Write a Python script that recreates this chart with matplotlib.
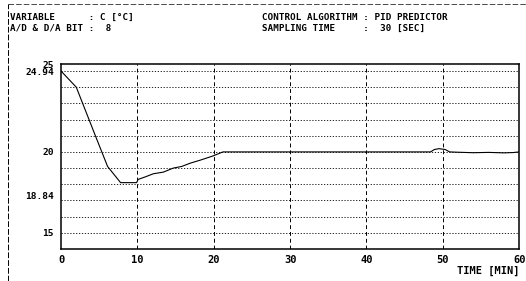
import matplotlib
matplotlib.use("Agg")
from matplotlib import pyplot as plt

time_min = [0, 2.0, 4.5, 6.1, 7.8, 9.9, 10.1, 11.0, 12.1, 13.4, 14.7, 15.8, 16.9, 18.3, 19.9,
            21.2, 30, 40, 48.4, 48.9, 49.5, 50.3, 50.9, 52.0, 54.0, 56.0, 58.0, 59.2, 60]
temp_c = [25.0, 24.0, 21.0, 19.1, 18.1, 18.1, 18.3, 18.45, 18.65, 18.75, 19.0, 19.1, 19.3, 19.5, 19.75,
          20.0, 20.0, 20.0, 20.0, 20.15, 20.2, 20.15, 20.0, 19.98, 19.95, 19.97, 19.94, 19.96, 20.0]

ytick_pos = [25.42, 24.94, 20, 17.28, 15]
ytick_lab = ["25", "24.94", "20", "18.84", "15"]
xticks = [0, 10, 20, 30, 40, 50, 60]

mono = "DejaVu Sans Mono"

fig = plt.figure(figsize=(5.26, 2.81), dpi=100)
ax = fig.add_axes([0.116, 0.114, 0.871, 0.658])

ax.plot(time_min, temp_c, color="black", lw=0.8)

for y in range(15, 26):
    ax.axhline(y, color="black", lw=0.6, ls=(0, (1.5, 2)))
for x in xticks[1:-1]:
    ax.axvline(x, color="black", lw=0.7, ls=(0, (4, 3)))

ax.set_xlim(0, 60)
ax.set_ylim(14.0, 25.43)
ax.set_xticks(xticks)
ax.set_xticklabels([str(v) for v in xticks], family=mono, fontweight="bold", fontsize=7.5)
ax.set_yticks(ytick_pos)
ax.set_yticklabels(ytick_lab, family=mono, fontweight="bold", fontsize=6.8)
ax.tick_params(axis="x", length=0, pad=4)
ax.tick_params(axis="y", length=0, pad=5)
for s in ax.spines.values():
    s.set_linewidth(1.1)

ax.text(1.0, -0.09, "TIME [MIN]", transform=ax.transAxes, ha="right", va="top",
        family=mono, fontweight="bold", fontsize=7.5)

fig.text(0.019, 0.955, "VARIABLE      : C [\u00b0C]", family=mono, fontweight="bold",
         fontsize=6.7, va="top")
fig.text(0.019, 0.915, "A/D & D/A BIT :  8", family=mono, fontweight="bold",
         fontsize=6.7, va="top")
fig.text(0.498, 0.955, "CONTROL ALGORITHM : PID PREDICTOR", family=mono, fontweight="bold",
         fontsize=6.7, va="top")
fig.text(0.498, 0.915, "SAMPLING TIME     :  30 [SEC]", family=mono, fontweight="bold",
         fontsize=6.7, va="top")

# page frame
fig.add_artist(plt.Line2D([0.015, 0.015], [0.0, 0.985], transform=fig.transFigure,
                          color="black", lw=0.7, ls=(0, (6, 2))))
fig.add_artist(plt.Line2D([0.015, 1.0], [0.985, 0.985], transform=fig.transFigure,
                          color="black", lw=0.5, ls=(0, (8, 3))))

fig.savefig("out.png", dpi=100)
